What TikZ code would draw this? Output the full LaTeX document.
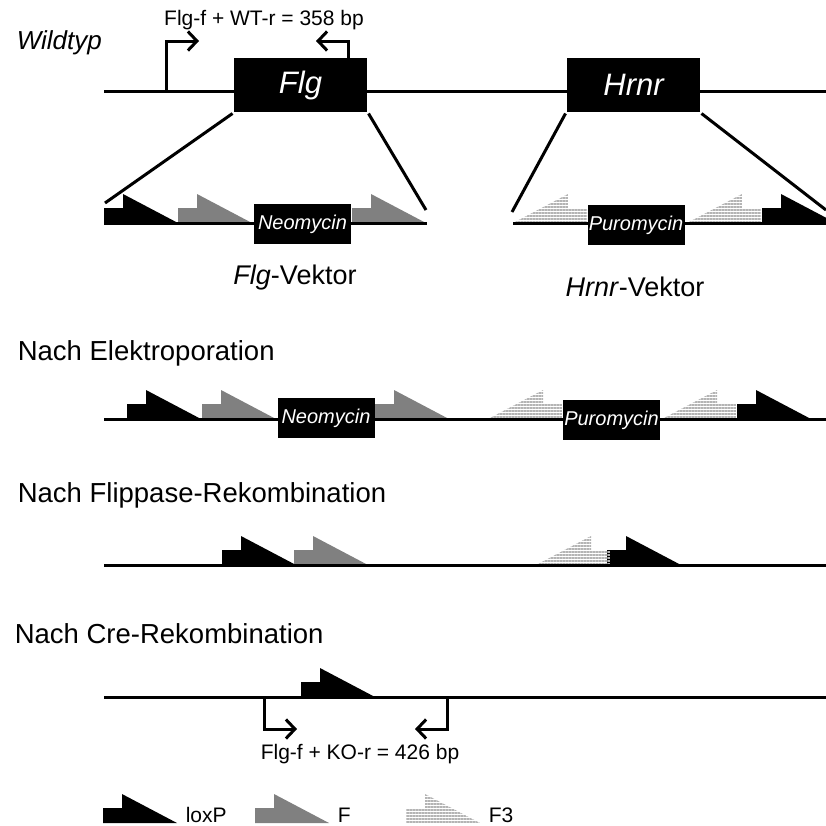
\documentclass[tikz,border=0pt]{standalone}
\usepackage{fontspec}
\setmainfont{Liberation Sans}
\usetikzlibrary{arrows.meta, positioning, patterns.meta}
\definecolor{cgrey}{HTML}{808080}
\definecolor{cstripe}{HTML}{B4B4B4}
\tikzset{
  every picture/.style={x=1pt, y=-1pt, line width=3pt},
  dna/.style={draw=black, line width=3pt},
  gene/.style={fill=black, text=white, inner sep=0pt, minimum width=133pt, minimum height=54pt, font=\itshape\fontsize{31}{31}\selectfont},
  cassette/.style={fill=black, text=white, inner sep=0pt, minimum width=97pt, minimum height=40pt, font=\itshape\fontsize{20}{20}\selectfont},
  heading/.style={anchor=west, font=\fontsize{27.5}{27.5}\selectfont},
  label/.style={font=\fontsize{21}{21}\selectfont},
  vlabel/.style={font=\fontsize{27}{27}\selectfont},
  primer/.style={draw=black, line width=3pt, -{Straight Barb[length=9pt, width=19pt, line width=3pt]}},
  lox/.style={fill=black},
  frt/.style={fill=cgrey},
  fthree/.style={pattern={Lines[angle=0, distance=3pt, line width=1.7pt]}, pattern color=cstripe},
  site/.pic={\path[pic actions] (0,0) -- (0,-15) -- (19,-15) -- (19,-29) -- (74,0) -- cycle;},
  rsite/.pic={\path[pic actions] (0,0) -- (55,-29) -- (55,-15) -- (74,-15) -- (74,0) -- cycle;},
}

\begin{document}
\begin{tikzpicture}
  \clip (0,0) rectangle (826,825);
  \fill[white] (0,0) rectangle (826,825);

  % Wildtyp
  \node[heading, font=\itshape\fontsize{26}{26}\selectfont] (wt-title) at (12,43) {Wildtyp};
  \coordinate (wt-a) at (104,91);
  \coordinate (wt-b) at (826,91);
  \draw[dna] (wt-a) -- (wt-b);
  \node[gene] (flg) at (300.5,85) {Flg};
  \node[gene] (hrnr) at (633.5,85) {Hrnr};
  \coordinate (wt-fwd) at (166,91);
  \coordinate (wt-fwd-tip) at (199,41);
  \coordinate (wt-rev) at (348,58);
  \coordinate (wt-rev-tip) at (316,41);
  \draw[primer] (wt-fwd) |- (wt-fwd-tip);
  \draw[primer] (wt-rev) |- (wt-rev-tip);
  \node[label] (wt-pcr) at (264,20) {Flg-f + WT-r = 358 bp};

  % Vektoren
  \coordinate (fv-a) at (104,223);
  \coordinate (fv-b) at (427,223);
  \coordinate (hv-a) at (513,223);
  \coordinate (hv-b) at (826,223);
  \coordinate (fv-l) at (105,203);
  \coordinate (fv-r) at (426,210);
  \coordinate (hv-l) at (512,212);
  \coordinate (hv-r) at (826,210);
  \draw[dna] (flg.south west) -- (fv-l);
  \draw[dna] (flg.south east) -- (fv-r);
  \draw[dna] (hrnr.south west) -- (hv-l);
  \draw[dna] (hrnr.south east) -- (hv-r);
  \pic[lox] at (104,223) {site};
  \foreach \x in {178,352} \pic[frt] at (\x,223) {site};
  \foreach \x in {513,687} \pic[fthree] at (\x,223) {rsite};
  \pic[lox] at (762,223) {site};
  \draw[dna] (fv-a) -- (fv-b);
  \draw[dna] (hv-a) -- (hv-b);
  \node[cassette] (neo1) at (302.5,224) {Neomycin};
  \node[cassette] (puro1) at (636,225) {Puromycin};
  \node[vlabel] (flg-vec) at (295,278) {\textit{Flg}-Vektor};
  \node[vlabel] (hrnr-vec) at (635,287) {\textit{Hrnr}-Vektor};

  % Nach Elektroporation
  \node[heading] (ep-title) at (13,353) {Nach Elektroporation};
  \coordinate (ep-a) at (104,419);
  \coordinate (ep-b) at (826,419);
  \foreach \x in {127,737} \pic[lox] at (\x,419) {site};
  \foreach \x in {202,375} \pic[frt] at (\x,419) {site};
  \foreach \x in {488,662} \pic[fthree] at (\x,419) {rsite};
  \draw[dna] (ep-a) -- (ep-b);
  \node[cassette] (neo2) at (326,418) {Neomycin};
  \node[cassette] (puro2) at (611.5,420) {Puromycin};

  % Nach Flippase-Rekombination
  \node[heading] (flp-title) at (13,495) {Nach Flippase-Rekombination};
  \coordinate (flp-a) at (104,565);
  \coordinate (flp-b) at (826,565);
  \foreach \x in {222,607} \pic[lox] at (\x,565) {site};
  \pic[frt] at (294,565) {site};
  \pic[fthree] at (536,565) {rsite};
  \draw[dna] (flp-a) -- (flp-b);

  % Nach Cre-Rekombination
  \node[heading] (cre-title) at (10,634) {Nach Cre-Rekombination};
  \coordinate (cre-a) at (104,697);
  \coordinate (cre-b) at (826,697);
  \pic[lox] at (301,697) {site};
  \draw[dna] (cre-a) -- (cre-b);
  \coordinate (ko-fwd) at (264,697);
  \coordinate (ko-fwd-tip) at (297,729);
  \coordinate (ko-rev) at (447,697);
  \coordinate (ko-rev-tip) at (415,729);
  \draw[primer] (ko-fwd) |- (ko-fwd-tip);
  \draw[primer] (ko-rev) |- (ko-rev-tip);
  \node[label] (ko-pcr) at (360,754) {Flg-f + KO-r = 426 bp};

  % Legende
  \pic[lox] at (103,823) {site};
  \pic[frt] at (255,823) {site};
  \pic[fthree] at (406,823) {site};
  \node[label, anchor=base west] (leg-lox) at (181,822) {loxP};
  \node[label, anchor=base west] (leg-frt) at (333,822) {F};
  \node[label, anchor=base west] (leg-f3) at (484,822) {F3};
\end{tikzpicture}
\end{document}
